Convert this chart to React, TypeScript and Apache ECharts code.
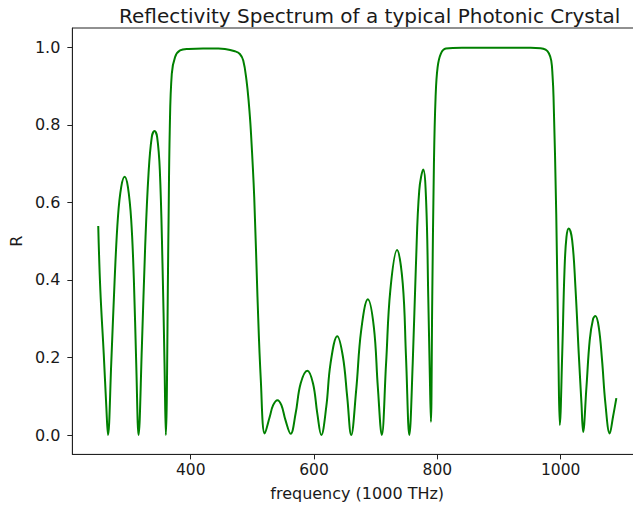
import React, { useEffect, useRef } from "react";
import * as echarts from "echarts";

const TITLE = "Reflectivity Spectrum of a typical Photonic Crystal";
const X_LABEL = "frequency (1000 THz)";
const Y_LABEL = "R";
const X_TICKS = [400, 600, 800, 1000];
const Y_TICKS = [0, 0.2, 0.4, 0.6, 0.8, 1.0];

const frequency = [
  250, 253.4, 258.9, 263.1, 265.8, 271.1, 276.6, 282, 287.3, 292.8, 298.1, 303.5,
  307.8, 311.6, 315.4, 320.8, 326.1, 331.6, 336.9, 341.3, 345.5, 349.9, 354.2,
  357.5, 359.6, 363.9, 366, 369.3, 374.6, 382.7, 396.3, 420, 445, 455.5, 471.6,
  479.7, 485.2, 490.5, 494.3, 497.5, 503, 508.3, 513.7, 520.1, 528.2, 533.7,
  540.7, 547.1, 553.6, 562.2, 570.2, 578.3, 589.2, 598.4, 605.3, 611.8, 619.9,
  626.8, 637.7, 646.9, 653.8, 660.3, 668.4, 676.5, 687.3, 697, 703.5, 709.9,
  716.9, 723.8, 734.7, 743.9, 749.2, 754.6, 760.1, 765.4, 770.7, 777.2, 782,
  785.3, 788, 789.6, 791.8, 794.5, 797.2, 800.5, 805.8, 813.9, 840, 900, 951.3,
  967.5, 975.6, 980.9, 984.8, 986.9, 988.5, 992.9, 996.6, 998.7, 1002.6, 1006.3,
  1009.5, 1013.2, 1018.7, 1024, 1029.4, 1033.8, 1036.5, 1041.9, 1047.2, 1052.7,
  1056.4, 1061.8, 1067.2, 1072.6, 1079.6, 1085, 1090.4,
];

const reflectivity = [
  0.539, 0.374, 0.21, 0.073, 0.0, 0.185, 0.4, 0.563, 0.64, 0.666, 0.64, 0.554,
  0.4, 0.185, 0.0, 0.228, 0.485, 0.675, 0.769, 0.784, 0.769, 0.683, 0.443,
  0.185, 0.0, 0.53, 0.786, 0.932, 0.975, 0.992, 0.996, 0.997, 0.997, 0.996, 0.99,
  0.983, 0.966, 0.915, 0.855, 0.786, 0.614, 0.356, 0.142, 0.004, 0.047, 0.077,
  0.09, 0.077, 0.039, 0.003, 0.056, 0.133, 0.166, 0.133, 0.056, 0.0, 0.073,
  0.185, 0.255, 0.202, 0.099, 0.0, 0.116, 0.27, 0.35, 0.279, 0.124, 0.0,
  0.185, 0.374, 0.477, 0.391, 0.202, 0.0, 0.185, 0.443, 0.631, 0.685, 0.597,
  0.356, 0.142, 0.034, 0.356, 0.7, 0.872, 0.949, 0.984, 0.997, 0.999, 0.999, 0.999,
  0.998, 0.994, 0.985, 0.966, 0.927, 0.872, 0.571, 0.185, 0.026, 0.21, 0.425,
  0.511, 0.533, 0.503, 0.382, 0.21, 0.082, 0.008, 0.124, 0.245, 0.3,
  0.307, 0.279, 0.193, 0.082, 0.004, 0.047, 0.095,
];

const FONT = "DejaVu Sans";

export default function App() {
  const ref = useRef<HTMLDivElement>(null);
  useEffect(() => {
    if (!ref.current) return;
    const chart = echarts.init(ref.current, undefined, { renderer: "svg" });
    const data = frequency.map((f, i) => [f, reflectivity[i]]);
    chart.setOption({
      animation: false,
      backgroundColor: "#ffffff",
      title: {
        text: TITLE,
        left: 114,
        top: 1,
        textStyle: { fontFamily: FONT, fontSize: 20, fontWeight: "normal", color: "#1a1a1a" },
      },
      grid: {
        left: 70,
        top: 28,
        right: 18,
        bottom: 52.6,
        show: true,
        borderColor: "#222",
        borderWidth: 1,
        backgroundColor: "transparent",
      },
      xAxis: {
        type: "value",
        min: 208,
        max: 1132,
        name: X_LABEL,
        nameLocation: "middle",
        nameGap: 31,
        nameTextStyle: { fontFamily: FONT, fontSize: 16, color: "#1a1a1a" },
        axisLine: { show: true, onZero: false, lineStyle: { color: "#222", width: 1 } },
        axisTick: { show: true, inside: false, length: 5, customValues: X_TICKS, lineStyle: { color: "#222" } },
        axisLabel: {
          customValues: X_TICKS,
          margin: 8,
          fontFamily: FONT,
          fontSize: 15.5,
          color: "#1a1a1a",
          formatter: (v: number) => String(Math.round(v)),
        },
        splitLine: { show: false },
      },
      yAxis: {
        type: "value",
        min: -0.05,
        max: 1.05,
        name: Y_LABEL,
        nameLocation: "middle",
        nameRotate: 90,
        nameGap: 46,
        nameTextStyle: { fontFamily: FONT, fontSize: 16, color: "#1a1a1a" },
        axisLine: { show: true, onZero: false, lineStyle: { color: "#222", width: 1 } },
        axisTick: { show: true, inside: false, length: 5, customValues: Y_TICKS, lineStyle: { color: "#222" } },
        axisLabel: {
          customValues: Y_TICKS,
          margin: 12,
          fontFamily: FONT,
          fontSize: 16,
          color: "#1a1a1a",
          formatter: (v: number) => v.toFixed(1),
        },
        splitLine: { show: false },
      },
      series: [
        {
          type: "line",
          data,
          showSymbol: false,
          smooth: 0.4,
          lineStyle: { color: "#008000", width: 2 },
          clip: true,
        },
      ],
    });
    return () => chart.dispose();
  }, []);
  return (
    <div
      ref={ref}
      style={{ position: "fixed", left: 0, top: 0, width: 660, height: 507, background: "#fff" }}
    />
  );
}
